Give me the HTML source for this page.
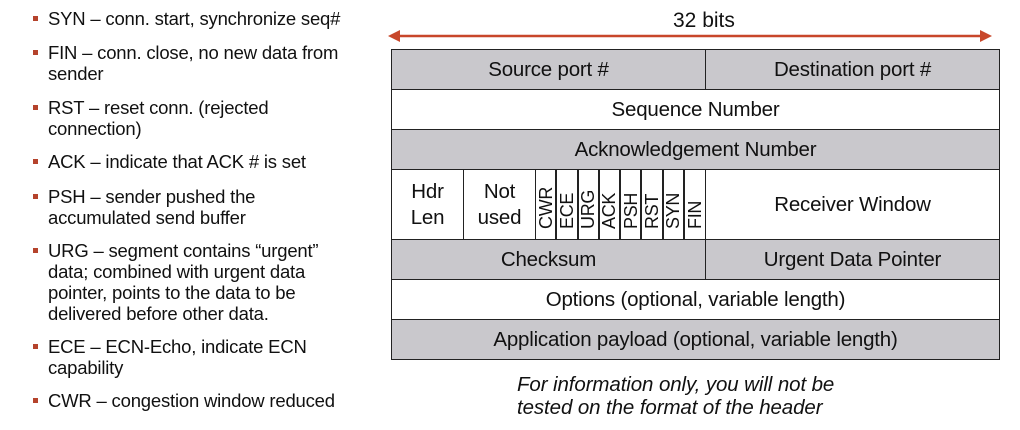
<!DOCTYPE html>
<html><head><meta charset="utf-8"><style>
body{margin:0;width:1020px;height:430px;background:#fff;position:relative;overflow:hidden;font-family:"Liberation Sans",Arial,sans-serif;color:#111}
.b{position:absolute;left:48px;font-size:18.5px;line-height:21px;width:318px;letter-spacing:-0.2px}
.b:before{content:"";position:absolute;left:-15px;top:8px;width:5px;height:5px;background:#b5432c}
.c{position:absolute;box-sizing:border-box;border:1px solid #222;display:flex;align-items:center;justify-content:center;text-align:center;font-size:20.5px;line-height:26px;letter-spacing:-0.2px}
.g{background:#c9c8cc}
.w{background:#fff}
.f{position:absolute;top:169px;height:71px;width:21.25px;box-sizing:border-box;border:1px solid #222;background:#fff}
.f span{position:absolute;left:50%;top:59px;transform-origin:0 0;transform:rotate(-90deg) translate(0,-50%);font-size:18px;line-height:18px;white-space:nowrap;letter-spacing:-0.3px}
.i{position:absolute;left:517px;font-style:italic;font-size:20.5px;line-height:22px;letter-spacing:-0.1px}
</style></head><body>
<div class="b" style="top:8px">SYN – conn. start, synchronize seq#</div>
<div class="b" style="top:42px">FIN – conn. close, no new data from sender</div>
<div class="b" style="top:97px;width:250px">RST – reset conn. (rejected connection)</div>
<div class="b" style="top:151px">ACK – indicate that ACK # is set</div>
<div class="b" style="top:186px;width:230px">PSH – sender pushed the accumulated send buffer</div>
<div class="b" style="top:240px;width:290px">URG – segment contains “urgent” data; combined with urgent data pointer, points to the data to be delivered before other data.</div>
<div class="b" style="top:336px;width:280px">ECE – ECN-Echo, indicate ECN capability</div>
<div class="b" style="top:390px">CWR – congestion window reduced</div>

<div style="position:absolute;left:673px;top:9px;font-size:21px">32 bits</div>
<svg style="position:absolute;left:0;top:0" width="1020" height="60">
<line x1="395" y1="36" x2="985" y2="36" stroke="#c8472a" stroke-width="2.5"/>
<polygon points="388,36 400,30 400,42" fill="#c8472a"/>
<polygon points="992,36 980,30 980,42" fill="#c8472a"/>
</svg>

<div class="c g" style="left:391px;top:49px;width:315px;height:41px">Source port #</div>
<div class="c g" style="left:705px;top:49px;width:295px;height:41px">Destination port #</div>
<div class="c w" style="left:391px;top:89px;width:609px;height:41px">Sequence Number</div>
<div class="c g" style="left:391px;top:129px;width:609px;height:41px">Acknowledgement Number</div>
<div class="c w" style="left:391px;top:169px;width:73px;height:71px">Hdr<br>Len</div>
<div class="c w" style="left:463px;top:169px;width:73px;height:71px">Not<br>used</div>
<div class="f" style="left:535px"><span>CWR</span></div>
<div class="f" style="left:556.25px"><span>ECE</span></div>
<div class="f" style="left:577.5px"><span>URG</span></div>
<div class="f" style="left:598.75px"><span>ACK</span></div>
<div class="f" style="left:620px"><span>PSH</span></div>
<div class="f" style="left:641.25px"><span>RST</span></div>
<div class="f" style="left:662.5px"><span>SYN</span></div>
<div class="f" style="left:683.75px;width:22.25px"><span>FIN</span></div>
<div class="c w" style="left:705px;top:169px;width:295px;height:71px">Receiver Window</div>
<div class="c g" style="left:391px;top:239px;width:315px;height:41px">Checksum</div>
<div class="c g" style="left:705px;top:239px;width:295px;height:41px">Urgent Data Pointer</div>
<div class="c w" style="left:391px;top:279px;width:609px;height:41px">Options (optional, variable length)</div>
<div class="c g" style="left:391px;top:319px;width:609px;height:41px">Application payload (optional, variable length)</div>

<div class="i" style="top:374px">For information only, you will not be</div>
<div class="i" style="top:397px">tested on the format of the header</div>
</body></html>
